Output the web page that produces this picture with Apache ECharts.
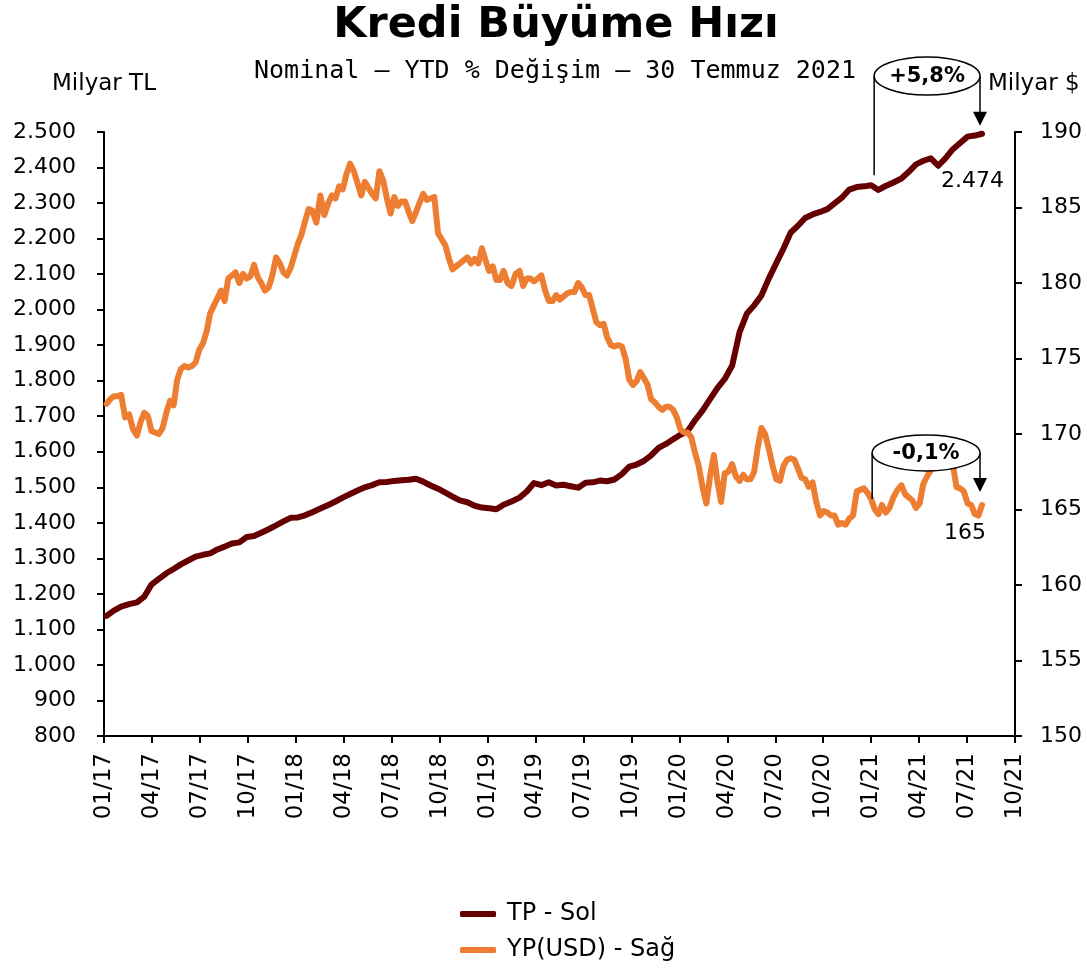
<!DOCTYPE html>
<html lang="tr">
<head>
<meta charset="UTF-8">
<title>Kredi Büyüme Hızı</title>
<style type="text/css">
  html, body { margin: 0; padding: 0; background: #fff; }
  #main { width: 1087px; height: 968px; }
</style>
<script type="text/javascript" src="https://cdn.jsdelivr.net/npm/echarts@6/dist/echarts.min.js"></script>
</head>
<body>
<div id="main"></div>
<script type="text/javascript">
// TP (milyar TL), iki haftalik, 06.01.2017 - 30.07.2021
var tpStart = '2017-01-06';
var tpStepDays = 14;
var tpValues = [
  1138,1153,1164,1171,1176,1192,1226,1242,1258,1270,
  1283,1294,1305,1310,1314,1325,1333,1342,1345,1360,
  1363,1372,1382,1393,1404,1414,1415,1421,1430,1440,
  1450,1460,1471,1481,1491,1500,1506,1514,1515,1518,
  1520,1521,1524,1516,1505,1496,1485,1474,1463,1458,
  1448,1443,1441,1438,1451,1460,1471,1488,1512,1506,
  1514,1505,1507,1503,1499,1513,1514,1519,1517,1522,
  1537,1558,1564,1574,1590,1611,1622,1635,1648,1658,
  1688,1716,1749,1780,1805,1842,1937,1989,2012,2040,
  2088,2131,2172,2217,2236,2258,2268,2275,2283,2299,
  2315,2338,2345,2347,2350,2337,2348,2358,2369,2388,
  2409,2419,2426,2405,2426,2451,2469,2487,2490,2495
];

// YP (milyar USD), haftalik, 06.01.2017 - 30.07.2021
var ypStart = '2017-01-06';
var ypStepDays = 7;
var ypValues = [
  172.0,172.3,172.5,172.5,172.6,171.1,171.3,170.3,169.9,170.8,
  171.4,171.2,170.2,170.1,170.0,170.4,171.4,172.2,171.9,173.6,
  174.3,174.5,174.4,174.5,174.75,175.6,176.0,176.8,178.0,178.5,
  179.0,179.5,178.8,180.3,180.5,180.7,180.0,180.6,180.3,180.45,
  181.2,180.4,180.0,179.5,179.7,180.5,181.7,181.3,180.7,180.5,
  181.0,181.8,182.6,183.2,184.1,184.9,184.8,184.0,185.8,184.5,
  185.3,185.8,185.6,186.4,186.2,187.2,187.9,187.4,186.6,185.8,
  186.7,186.3,185.9,185.6,187.4,186.8,185.6,184.6,185.7,185.1,
  185.4,185.4,184.7,184.1,184.7,185.3,185.9,185.5,185.6,185.7,
  183.3,182.9,182.5,181.6,180.9,181.1,181.3,181.5,181.7,181.3,
  181.6,181.3,182.3,181.5,180.8,181.1,180.2,180.2,180.8,180.0,
  179.8,180.6,180.8,179.8,180.3,180.3,180.1,180.3,180.5,179.5,
  178.8,178.8,179.2,178.9,179.1,179.3,179.4,179.4,180.0,179.7,
  179.2,179.2,178.3,177.4,177.2,177.3,176.4,175.9,175.8,175.9,
  175.8,175.0,173.6,173.25,173.5,174.1,173.7,173.3,172.3,172.1,
  171.8,171.6,171.8,171.8,171.6,171.1,170.3,170.1,170.1,169.8,
  168.8,167.9,166.5,165.4,167.3,168.6,166.8,165.5,167.4,167.5,
  168.0,167.2,166.9,167.3,167.0,167.0,167.5,169.1,170.4,170.0,
  169.0,167.9,167.0,166.9,167.9,168.3,168.4,168.3,167.7,167.1,
  167.0,166.5,166.8,165.5,164.6,164.9,164.8,164.6,164.6,164.0,
  164.1,164.0,164.4,164.6,166.2,166.3,166.4,166.1,165.7,165.0,
  164.7,165.3,164.8,165.1,165.8,166.3,166.6,166.0,165.8,165.6,
  165.1,165.4,166.7,167.2,167.6,167.8,167.9,167.8,168.0,168.1,
  168.1,166.5,166.4,166.2,165.4,165.3,164.7,164.6,165.3
];

var seriesNames = ['TP - Sol', 'YP(USD) - Sağ'];
var colors = ['#660000', '#ED7D31'];
var titleText = 'Kredi Büyüme Hızı';
var subtitleText = 'Nominal – YTD % Değişim – 30 Temmuz 2021';
var tpChange = '+5,8%';
var ypChange = '-0,1%';
var tpLastLabel = '2.474';
var ypLastLabel = '165';

// x ekseni: Ocak 2017'den itibaren ay sayisi
var baseYear = 2017;
var xMax = 57; // 10/21

function daysInMonth(y, m) {
  return new Date(Date.UTC(y, m + 1, 0)).getUTCDate();
}
function monthPos(d) {
  var y = d.getUTCFullYear(), m = d.getUTCMonth();
  return (y - baseYear) * 12 + m + (d.getUTCDate() - 1) / daysInMonth(y, m);
}
function buildSeries(start, step, values) {
  var t0 = Date.parse(start + 'T00:00:00Z');
  return values.map(function (v, i) {
    return [monthPos(new Date(t0 + i * step * 86400000)), v];
  });
}
function monthLabel(v) {
  var m = v % 12 + 1;
  var y = (baseYear % 100) + Math.floor(v / 12);
  return (m < 10 ? '0' : '') + m + '/' + y;
}
function thousands(v) {
  return String(v).replace(/\B(?=(\d{3})+(?!\d))/g, '.');
}

var tpData = buildSeries(tpStart, tpStepDays, tpValues);
var ypData = buildSeries(ypStart, ypStepDays, ypValues);

var font = 'DejaVu Sans';
var axisLineStyle = { color: '#000', width: 2 };

var chart = echarts.init(document.getElementById('main'));

chart.setOption({
  animation: false,
  backgroundColor: '#fff',
  title: [{
    text: titleText,
    left: 551,
    textAlign: 'center',
    top: -1,
    textStyle: { fontFamily: font, fontSize: 43, fontWeight: 'bold', color: '#000' }
  }, {
    text: subtitleText,
    left: 550,
    textAlign: 'center',
    top: 54,
    textStyle: { fontFamily: 'DejaVu Sans Mono', fontSize: 25, fontWeight: 'normal', color: '#000' }
  }],
  grid: { left: 104, right: 72, top: 132, bottom: 232 },
  legend: {
    orient: 'vertical',
    left: 455,
    top: 897,
    height: 90,
    itemWidth: 36,
    itemHeight: 6,
    itemGap: 12,
    icon: 'roundRect',
    textStyle: { fontFamily: font, fontSize: 24, color: '#000', padding: [0, 0, 0, 6] },
    data: seriesNames
  },
  xAxis: {
    type: 'value',
    min: 0,
    max: xMax,
    interval: 3,
    axisLine: { lineStyle: axisLineStyle },
    axisTick: { length: 7, lineStyle: axisLineStyle },
    splitLine: { show: false },
    axisLabel: {
      rotate: 90,
      margin: 17,
      fontFamily: font,
      fontSize: 23,
      color: '#000',
      formatter: monthLabel
    }
  },
  yAxis: [{
    type: 'value',
    min: 800,
    max: 2500,
    interval: 100,
    axisLine: { show: true, lineStyle: axisLineStyle },
    axisTick: { show: true, length: 7, lineStyle: axisLineStyle },
    splitLine: { show: false },
    axisLabel: { margin: 28, fontFamily: font, fontSize: 22, color: '#000', formatter: thousands }
  }, {
    type: 'value',
    position: 'right',
    min: 150,
    max: 190,
    interval: 5,
    axisLine: { show: true, lineStyle: axisLineStyle },
    axisTick: { show: true, length: 7, lineStyle: axisLineStyle },
    splitLine: { show: false },
    axisLabel: { margin: 25, fontFamily: font, fontSize: 22, color: '#000' }
  }],
  series: [{
    name: seriesNames[0],
    type: 'line',
    yAxisIndex: 0,
    showSymbol: false,
    symbol: 'none',
    color: colors[0],
    lineStyle: { width: 6, color: colors[0], join: 'round', cap: 'round' },
    data: tpData
  }, {
    name: seriesNames[1],
    type: 'line',
    yAxisIndex: 1,
    showSymbol: false,
    symbol: 'none',
    color: colors[1],
    lineStyle: { width: 6, color: colors[1], join: 'round', cap: 'round' },
    data: ypData
  }]
});

// notlar: eksen adlari, degisim balonlari, son deger etiketleri
function px(x, y, yi) {
  return chart.convertToPixel({ xAxisIndex: 0, yAxisIndex: yi }, [x, y]);
}
var gridTop = px(0, 2500, 0)[1];
var gridLeft = px(0, 2500, 0)[0];
var gridRight = px(xMax, 2500, 0)[0];
var tpLast = tpData[tpData.length - 1];
var ypLast = ypData[ypData.length - 1];
var tpLastPx = px(tpLast[0], tpLast[1], 0);
var ypLastPx = px(ypLast[0], ypLast[1], 1);
var jan21 = (2021 - baseYear) * 12;
var tpJan = tpData.filter(function (d) { return d[0] >= jan21; })[0];
var ypJan = ypData.filter(function (d) { return d[0] >= jan21; })[0];
var tpJanPx = px(jan21, tpJan[1], 0);
var ypJanPx = px(jan21, ypJan[1], 1);

var stroke = { stroke: '#000', lineWidth: 1.5, fill: null };

function bubble(xL, xR, cy, ry, yLeftEnd, yTip, label) {
  var cx = (xL + xR) / 2;
  return [
    { type: 'polyline', shape: { points: [[xL, cy], [xL, yLeftEnd]] }, style: stroke, z: 10 },
    { type: 'polyline', shape: { points: [[xR, cy], [xR, yTip - 12]] }, style: stroke, z: 10 },
    { type: 'polygon', shape: { points: [[xR - 7, yTip - 14], [xR + 7, yTip - 14], [xR, yTip]] },
      style: { fill: '#000' }, z: 10 },
    { type: 'ellipse', shape: { cx: cx, cy: cy, rx: (xR - xL) / 2, ry: ry },
      style: { fill: '#fff', stroke: '#000', lineWidth: 1.5 }, z: 11 },
    { type: 'text', x: cx, y: cy + 1, z: 12,
      style: { text: label, fill: '#000', fontFamily: font, fontSize: 21, fontWeight: 'bold',
               align: 'center', verticalAlign: 'middle' } }
  ];
}

var xL = tpJanPx[0] + 3;
var xR = tpLastPx[0] - 2;

var graphics = [
  { type: 'text', x: gridLeft, y: gridTop - 48, z: 5,
    style: { text: 'Milyar TL', fill: '#000', fontFamily: font, fontSize: 23, align: 'center', verticalAlign: 'middle' } },
  { type: 'text', x: gridRight - 27, y: gridTop - 48, z: 5,
    style: { text: 'Milyar $', fill: '#000', fontFamily: font, fontSize: 23, align: 'left', verticalAlign: 'middle' } },
  { type: 'text', x: tpLastPx[0] + 22, y: tpLastPx[1] + 48, z: 5,
    style: { text: tpLastLabel, fill: '#000', fontFamily: font, fontSize: 22, align: 'right', verticalAlign: 'middle' } },
  { type: 'text', x: ypLastPx[0] - 17, y: ypLastPx[1] + 28, z: 5,
    style: { text: ypLastLabel, fill: '#000', fontFamily: font, fontSize: 22, align: 'center', verticalAlign: 'middle' } }
]
.concat(bubble(xL, xR, gridTop - 56, 19, tpJanPx[1] - 10, tpLastPx[1] - 8, tpChange))
.concat(bubble(xL - 2, xR, ypJanPx[1] - 46, 18, ypJanPx[1], ypLastPx[1] - 13, ypChange));

chart.setOption({ graphic: graphics });
</script>
</body>
</html>
